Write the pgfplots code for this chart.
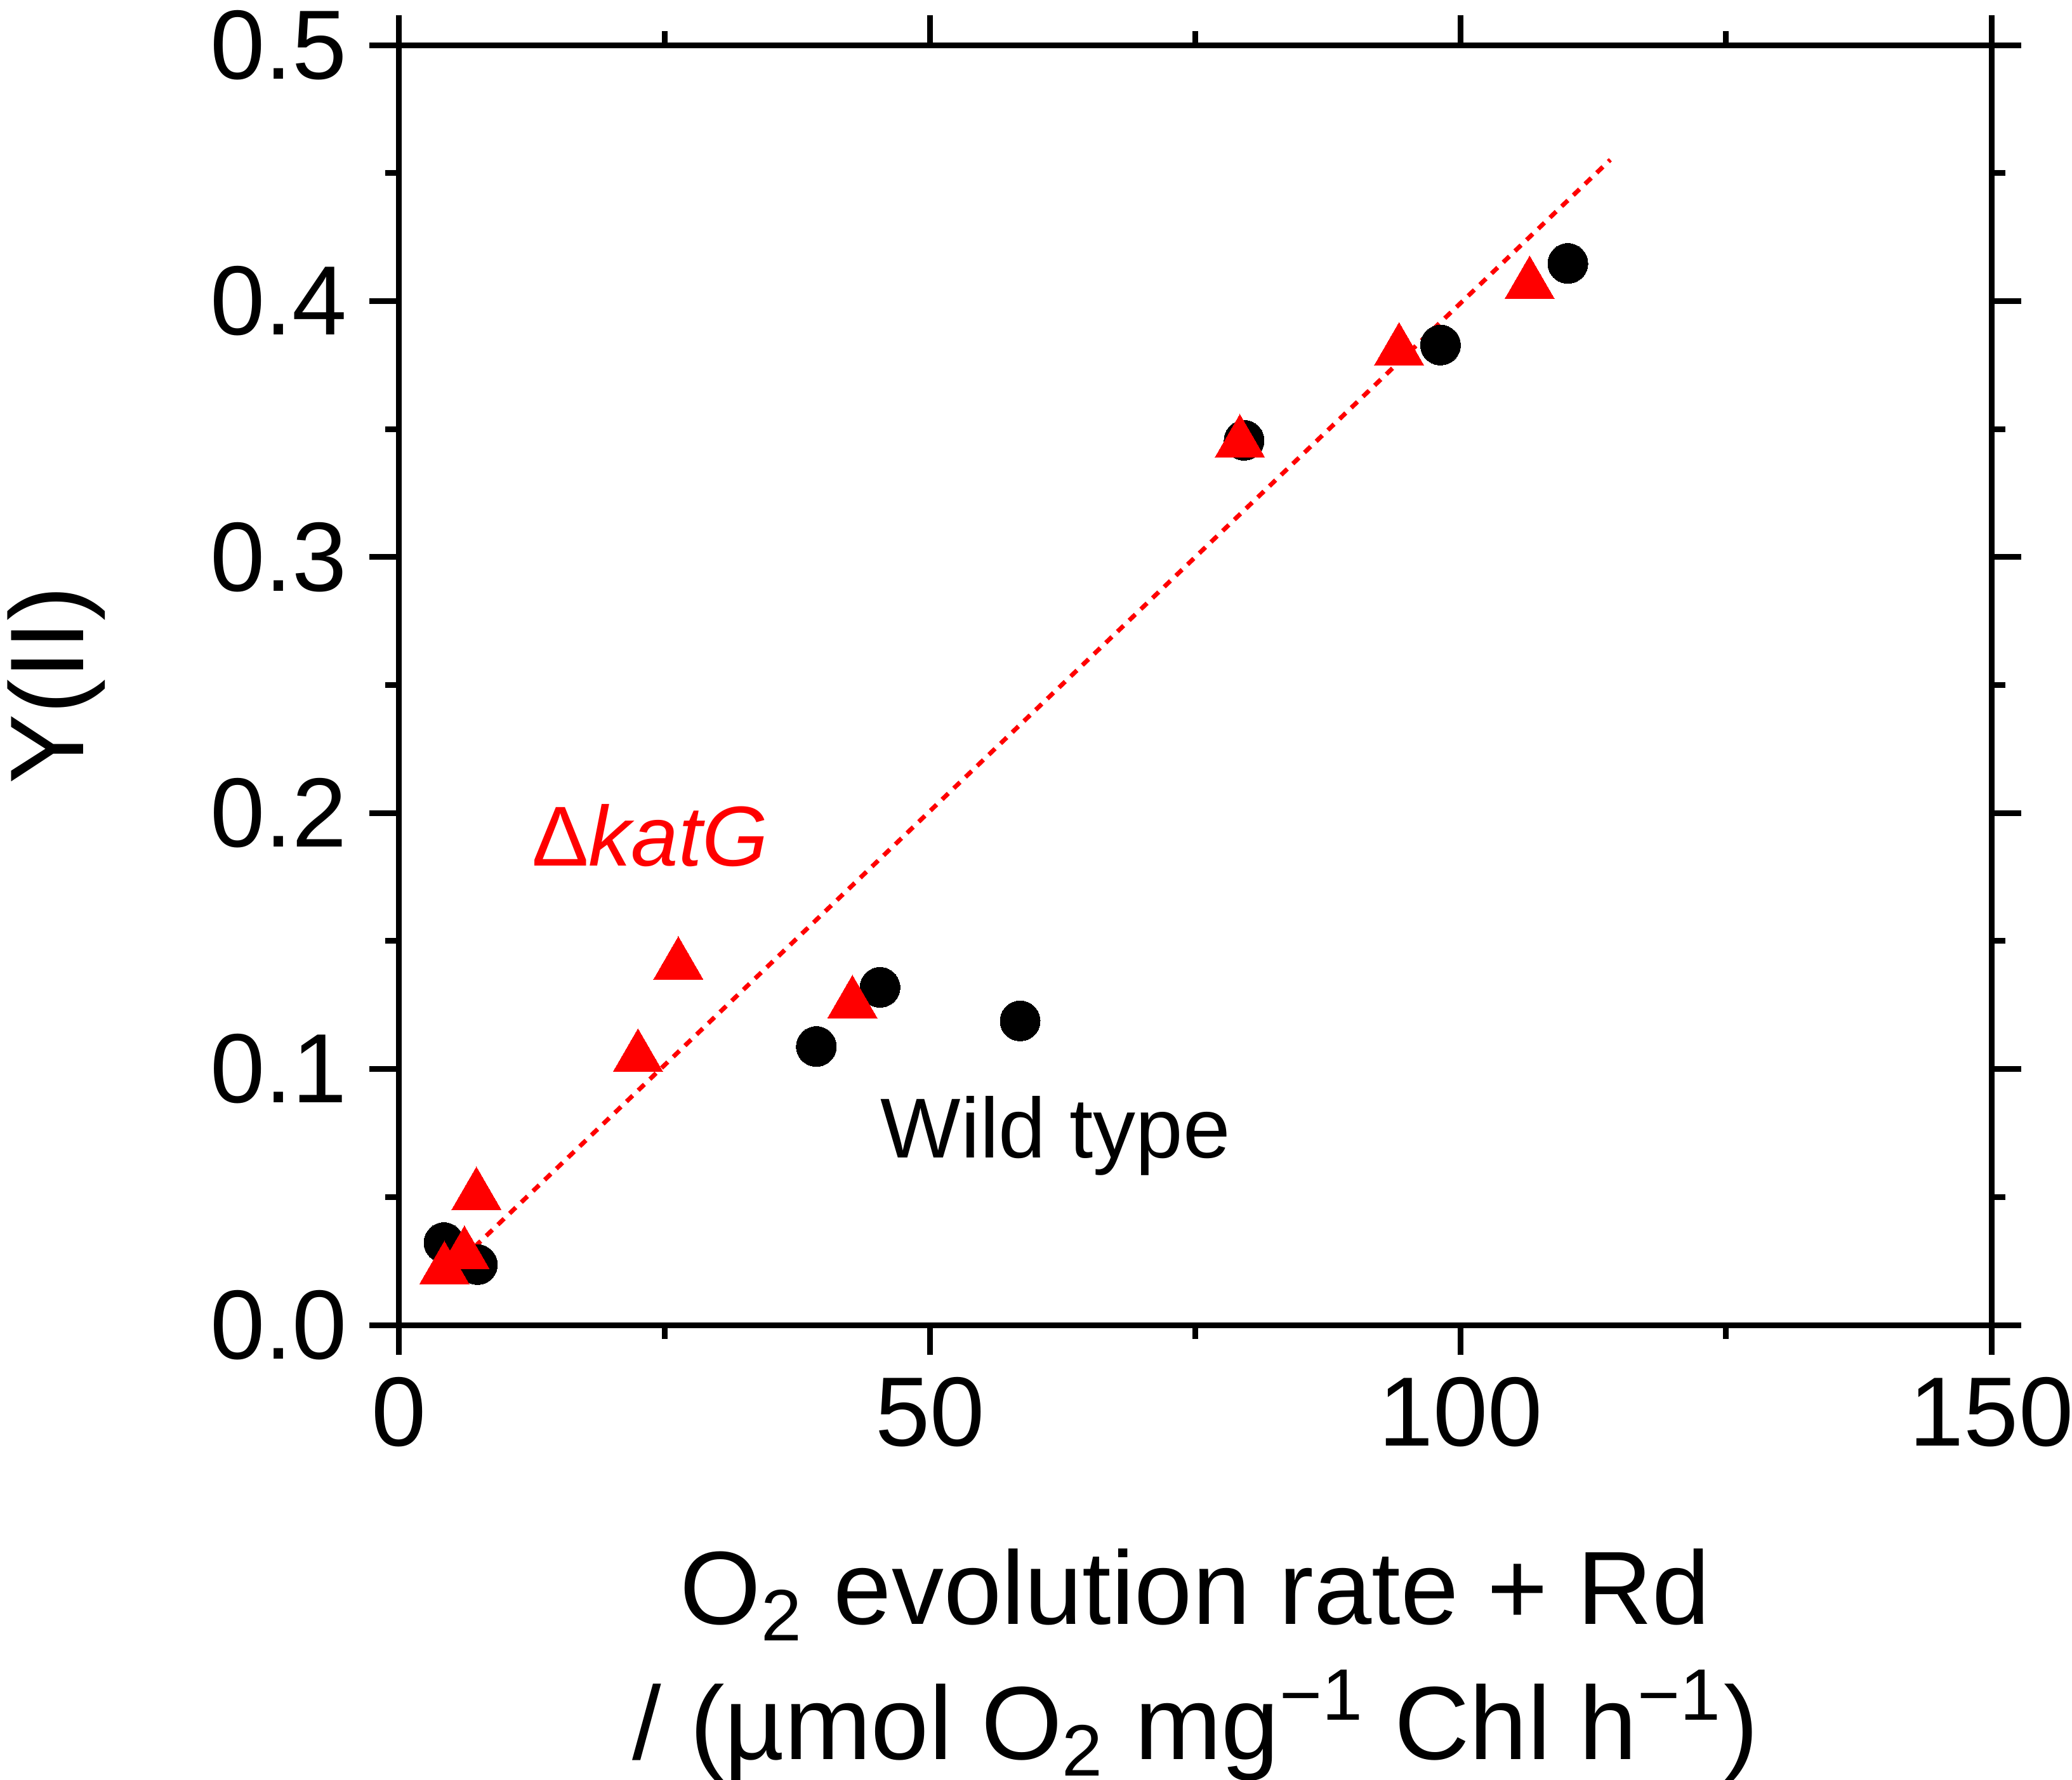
\documentclass[border=0pt]{standalone}
\usepackage{fontspec}
\setmainfont{Liberation Sans}
\usepackage{pgfplots}
\pgfplotsset{compat=1.18}
\definecolor{myred}{RGB}{255,0,0}

\begin{document}
\begin{tikzpicture}
\begin{axis}[
  at={(0,0)}, anchor=south west,
  scale only axis, width=250.9bp, height=201.7bp,
  xmin=0, xmax=150, ymin=0, ymax=0.5,
  xtick={0,50,100,150}, minor xtick={25,75,125},
  ytick={0,0.1,0.2,0.3,0.4,0.5}, minor ytick={0.05,0.15,0.25,0.35,0.45},
  tick align=outside,
  major tick length=4.7bp, minor tick length=2.2bp,
  axis line style={line width=0.9bp},
  every tick/.style={black, line width=0.9bp},
  /pgf/number format/assume math mode=true,
  ticklabel style={font=\fontsize{15.5bp}{15.5bp}\selectfont},
  yticklabel style={/pgf/number format/.cd, fixed, fixed zerofill, precision=1},
  xticklabel style={/pgf/number format/.cd, fixed},
  ylabel={Y(II)},
  ylabel style={at={([xshift=-61.9bp]rel axis cs:0,0.5)}, anchor=north, inner sep=0pt, font=\fontsize{16.5bp}{16.5bp}\selectfont},
  xlabel={O\textsubscript{2} evolution rate + Rd\\/ (µmol O\textsubscript{2} mg\textsuperscript{−1} Chl h\textsuperscript{−1})},
  xlabel style={at={([yshift=-35.1bp]rel axis cs:0.5,0)}, anchor=north, align=center, inner sep=0pt, font=\fontsize{16.4bp}{21.3bp}\selectfont},
  clip=false,
]
\addplot[only marks, mark=*, mark size=3.15bp, black, mark options={line width=0pt}] coordinates {
(4.22,0.0322) (7.37,0.0236) (39.3,0.1088) (45.3,0.1319) (58.5,0.1188) (79.6,0.3456) (98.1,0.3828) (110.1,0.4147)
};
\addplot[myred, line width=0.7bp, dash pattern=on 1.35bp off 1.2bp] coordinates {
(6,0.0261) (114.1,0.4552)
};
\addplot[only marks, mark=triangle*, mark size=4.5bp, myred, mark options={line width=0pt, fill=myred}] coordinates {
(4.26,0.0216) (6.15,0.0276) (7.28,0.0506) (22.5,0.1046) (26.3,0.1406) (42.7,0.1255) (79.2,0.3446) (94.2,0.3805) (106.5,0.4065)
};
\node[anchor=base west, inner sep=2bp, xshift=-2bp, text=myred, font=\fontsize{13.4bp}{13.4bp}\selectfont] at (axis cs:12.4,0.1794) {Δ\textit{katG}\kern1bp};
\node[anchor=base west, inner sep=2bp, xshift=-2bp, font=\fontsize{13.4bp}{13.4bp}\selectfont] at (axis cs:45.25,0.0652) {Wild type};
\end{axis}
\pgfresetboundingbox
\path[use as bounding box] (-62.9bp,-71.7bp) rectangle (263.6bp,208.8bp);
\end{tikzpicture}
\end{document}
